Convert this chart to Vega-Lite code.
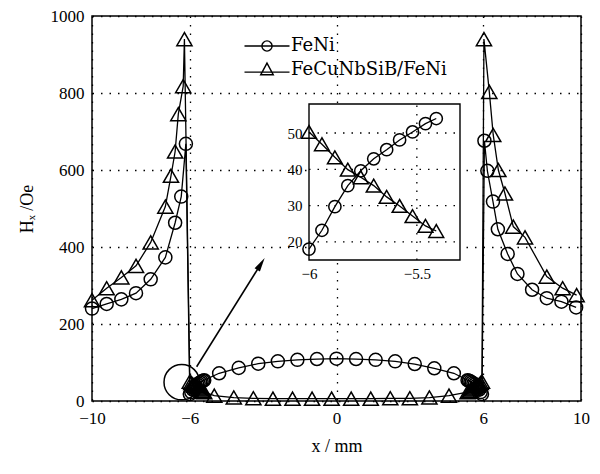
{
  "$schema": "https://vega.github.io/schema/vega-lite/v6.json",
  "width": 489,
  "height": 385,
  "autosize": "none",
  "padding": {"left": 92, "top": 16, "right": 19, "bottom": 73},
  "background": "white",
  "config": {
    "view": {"stroke": "black", "strokeWidth": 1.5},
    "font": "Liberation Serif",
    "axis": {"labelFont": "Liberation Serif", "titleFont": "Liberation Serif", "labelColor": "black", "titleColor": "black", "titleFontWeight": "normal"}
  },
  "datasets": {
    "hx": [
      {"s": "FeNi", "x": -10, "y": 240}, {"s": "FeNi", "x": -9.4, "y": 252}, {"s": "FeNi", "x": -8.8, "y": 264}, {"s": "FeNi", "x": -8.2, "y": 280}, {"s": "FeNi", "x": -7.6, "y": 316}, {"s": "FeNi", "x": -7.0, "y": 373}, {"s": "FeNi", "x": -6.6, "y": 463}, {"s": "FeNi", "x": -6.35, "y": 531}, {"s": "FeNi", "x": -6.16, "y": 668},
      {"s": "FeNi", "x": -6.0, "y": 18}, {"s": "FeNi", "x": -5.94, "y": 23.2}, {"s": "FeNi", "x": -5.88, "y": 29.7}, {"s": "FeNi", "x": -5.82, "y": 35.5}, {"s": "FeNi", "x": -5.76, "y": 39.6}, {"s": "FeNi", "x": -5.7, "y": 42.9}, {"s": "FeNi", "x": -5.64, "y": 45.4}, {"s": "FeNi", "x": -5.58, "y": 48.1}, {"s": "FeNi", "x": -5.52, "y": 50.3}, {"s": "FeNi", "x": -5.46, "y": 52.6}, {"s": "FeNi", "x": -5.41, "y": 54.0},
      {"s": "FeNi", "x": -4.8, "y": 72}, {"s": "FeNi", "x": -4.0, "y": 86}, {"s": "FeNi", "x": -3.2, "y": 97}, {"s": "FeNi", "x": -2.4, "y": 103}, {"s": "FeNi", "x": -1.6, "y": 107}, {"s": "FeNi", "x": -0.8, "y": 109}, {"s": "FeNi", "x": 0, "y": 110}, {"s": "FeNi", "x": 0.8, "y": 109}, {"s": "FeNi", "x": 1.6, "y": 107}, {"s": "FeNi", "x": 2.4, "y": 103}, {"s": "FeNi", "x": 3.2, "y": 96}, {"s": "FeNi", "x": 4.0, "y": 85}, {"s": "FeNi", "x": 4.8, "y": 72},
      {"s": "FeNi", "x": 5.36, "y": 54}, {"s": "FeNi", "x": 5.42, "y": 52.6}, {"s": "FeNi", "x": 5.48, "y": 50.3}, {"s": "FeNi", "x": 5.54, "y": 48.1}, {"s": "FeNi", "x": 5.6, "y": 45.4}, {"s": "FeNi", "x": 5.66, "y": 42.9}, {"s": "FeNi", "x": 5.72, "y": 39.6}, {"s": "FeNi", "x": 5.78, "y": 35.5}, {"s": "FeNi", "x": 5.84, "y": 29.7}, {"s": "FeNi", "x": 5.9, "y": 23.2}, {"s": "FeNi", "x": 5.95, "y": 18},
      {"s": "FeNi", "x": 6.05, "y": 676}, {"s": "FeNi", "x": 6.17, "y": 598}, {"s": "FeNi", "x": 6.4, "y": 518}, {"s": "FeNi", "x": 6.6, "y": 446}, {"s": "FeNi", "x": 7.0, "y": 382}, {"s": "FeNi", "x": 7.4, "y": 330}, {"s": "FeNi", "x": 8.0, "y": 289}, {"s": "FeNi", "x": 8.6, "y": 267}, {"s": "FeNi", "x": 9.2, "y": 258}, {"s": "FeNi", "x": 9.8, "y": 243},
      {"s": "FeCuNbSiB/FeNi", "x": -10, "y": 262}, {"s": "FeCuNbSiB/FeNi", "x": -9.4, "y": 293}, {"s": "FeCuNbSiB/FeNi", "x": -8.8, "y": 321}, {"s": "FeCuNbSiB/FeNi", "x": -8.2, "y": 351}, {"s": "FeCuNbSiB/FeNi", "x": -7.6, "y": 412}, {"s": "FeCuNbSiB/FeNi", "x": -7.0, "y": 505}, {"s": "FeCuNbSiB/FeNi", "x": -6.77, "y": 585}, {"s": "FeCuNbSiB/FeNi", "x": -6.6, "y": 648}, {"s": "FeCuNbSiB/FeNi", "x": -6.47, "y": 745}, {"s": "FeCuNbSiB/FeNi", "x": -6.27, "y": 818}, {"s": "FeCuNbSiB/FeNi", "x": -6.22, "y": 940},
      {"s": "FeCuNbSiB/FeNi", "x": -6.0, "y": 50.3}, {"s": "FeCuNbSiB/FeNi", "x": -5.94, "y": 46.9}, {"s": "FeCuNbSiB/FeNi", "x": -5.88, "y": 43.3}, {"s": "FeCuNbSiB/FeNi", "x": -5.82, "y": 39.9}, {"s": "FeCuNbSiB/FeNi", "x": -5.76, "y": 37.8}, {"s": "FeCuNbSiB/FeNi", "x": -5.7, "y": 35.5}, {"s": "FeCuNbSiB/FeNi", "x": -5.64, "y": 32.4}, {"s": "FeCuNbSiB/FeNi", "x": -5.58, "y": 29.9}, {"s": "FeCuNbSiB/FeNi", "x": -5.52, "y": 27.1}, {"s": "FeCuNbSiB/FeNi", "x": -5.46, "y": 24.4}, {"s": "FeCuNbSiB/FeNi", "x": -5.41, "y": 23.0},
      {"s": "FeCuNbSiB/FeNi", "x": -5.0, "y": 14}, {"s": "FeCuNbSiB/FeNi", "x": -4.2, "y": 9}, {"s": "FeCuNbSiB/FeNi", "x": -3.4, "y": 7}, {"s": "FeCuNbSiB/FeNi", "x": -2.6, "y": 6}, {"s": "FeCuNbSiB/FeNi", "x": -1.8, "y": 6}, {"s": "FeCuNbSiB/FeNi", "x": -1.0, "y": 6}, {"s": "FeCuNbSiB/FeNi", "x": -0.2, "y": 6}, {"s": "FeCuNbSiB/FeNi", "x": 0.6, "y": 6}, {"s": "FeCuNbSiB/FeNi", "x": 1.4, "y": 6}, {"s": "FeCuNbSiB/FeNi", "x": 2.2, "y": 7}, {"s": "FeCuNbSiB/FeNi", "x": 3.0, "y": 7}, {"s": "FeCuNbSiB/FeNi", "x": 3.8, "y": 9}, {"s": "FeCuNbSiB/FeNi", "x": 4.6, "y": 14},
      {"s": "FeCuNbSiB/FeNi", "x": 5.36, "y": 23}, {"s": "FeCuNbSiB/FeNi", "x": 5.42, "y": 24.4}, {"s": "FeCuNbSiB/FeNi", "x": 5.48, "y": 27.1}, {"s": "FeCuNbSiB/FeNi", "x": 5.54, "y": 29.9}, {"s": "FeCuNbSiB/FeNi", "x": 5.6, "y": 32.4}, {"s": "FeCuNbSiB/FeNi", "x": 5.66, "y": 35.5}, {"s": "FeCuNbSiB/FeNi", "x": 5.72, "y": 37.8}, {"s": "FeCuNbSiB/FeNi", "x": 5.78, "y": 39.9}, {"s": "FeCuNbSiB/FeNi", "x": 5.84, "y": 43.3}, {"s": "FeCuNbSiB/FeNi", "x": 5.9, "y": 46.9}, {"s": "FeCuNbSiB/FeNi", "x": 5.95, "y": 50.3},
      {"s": "FeCuNbSiB/FeNi", "x": 6.03, "y": 940}, {"s": "FeCuNbSiB/FeNi", "x": 6.25, "y": 803}, {"s": "FeCuNbSiB/FeNi", "x": 6.41, "y": 691}, {"s": "FeCuNbSiB/FeNi", "x": 6.62, "y": 600}, {"s": "FeCuNbSiB/FeNi", "x": 6.89, "y": 539}, {"s": "FeCuNbSiB/FeNi", "x": 7.23, "y": 453}, {"s": "FeCuNbSiB/FeNi", "x": 7.71, "y": 425}, {"s": "FeCuNbSiB/FeNi", "x": 8.6, "y": 323}, {"s": "FeCuNbSiB/FeNi", "x": 9.25, "y": 293}, {"s": "FeCuNbSiB/FeNi", "x": 9.82, "y": 275}
    ]
  },
  "resolve": {"scale": {"x": "independent", "y": "independent"}},
  "layer": [
    {
      "layer": [
        {
          "data": {"name": "hx"},
          "mark": {"type": "line", "color": "black", "strokeWidth": 1.3},
          "encoding": {
            "x": {"field": "x", "type": "quantitative", "scale": {"domain": [-10, 10], "nice": false},
              "axis": {"values": [-10, -6, 0, 6, 10], "grid": true, "gridColor": "black", "gridDash": [1.5, 7], "gridOpacity": 1, "gridWidth": 1.3, "domain": false, "ticks": false, "labelFontSize": 17, "labelPadding": 9, "labelFlush": false, "title": "x / mm", "titleFontSize": 18, "titlePadding": 11, "format": "d"}},
            "y": {"field": "y", "type": "quantitative", "scale": {"domain": [0, 1000], "nice": false},
              "axis": {"values": [0, 200, 400, 600, 800, 1000], "format": "d", "grid": true, "gridColor": "black", "gridDash": [1.5, 7], "gridOpacity": 1, "gridWidth": 1.3, "domain": false, "ticks": false, "labelFontSize": 17, "labelPadding": 8, "title": "Hₓ /Oe", "titleFontSize": 18, "titlePadding": 14}},
            "detail": {"field": "s"}
          }
        },
        {
          "data": {"name": "hx"},
          "transform": [{"filter": "datum.s === 'FeNi'"}],
          "mark": {"type": "point", "shape": "circle", "filled": false, "color": "black", "strokeWidth": 1.5, "size": 170, "opacity": 1},
          "encoding": {"x": {"field": "x", "type": "quantitative"}, "y": {"field": "y", "type": "quantitative"}}
        },
        {
          "data": {"name": "hx"},
          "transform": [{"filter": "datum.s !== 'FeNi'"}],
          "mark": {"type": "point", "shape": "triangle-up", "filled": false, "color": "black", "strokeWidth": 1.5, "size": 230, "opacity": 1},
          "encoding": {"x": {"field": "x", "type": "quantitative"}, "y": {"field": "y", "type": "quantitative"}}
        },
        {
          "data": {"name": "hx"},
          "transform": [{"filter": "false"}],
          "mark": {"type": "point", "filled": false, "color": "black", "strokeWidth": 1.4, "size": 144, "opacity": 0},
          "encoding": {
            "x": {"field": "x", "type": "quantitative"},
            "y": {"field": "y", "type": "quantitative"},
            "shape": {"field": "s", "type": "nominal",
              "scale": {"domain": ["FeNi", "FeCuNbSiB/FeNi"], "range": ["M-3.75,0H3.75M0.85,0A0.85,0.85,0,1,1,-0.85,0A0.85,0.85,0,1,1,0.85,0", "M-3.75,0.35H3.75M0,-1.15L1.05,0.8L-1.05,0.8Z"]},
              "legend": {"title": null, "orient": "none", "legendX": 166, "legendY": 21, "padding": 0,
                "labelFont": "DejaVu Serif", "labelFontSize": 18, "labelColor": "black", "symbolSize": 144, "labelOffset": 15, "rowPadding": 5,
                "symbolStrokeColor": "black", "symbolFillColor": "transparent", "symbolStrokeWidth": 1.4, "symbolOpacity": 1}
            }
          }
        },
        {
          "data": {"values": [{"x": -6.33, "y": 49}]},
          "mark": {"type": "point", "shape": "circle", "filled": false, "color": "black", "strokeWidth": 1.5, "size": 1257, "opacity": 1},
          "encoding": {"x": {"field": "x", "type": "quantitative"}, "y": {"field": "y", "type": "quantitative"}}
        },
        {
          "data": {"values": [{"x": -5.72, "y": 89, "x2": -3.09, "y2": 356}]},
          "mark": {"type": "rule", "color": "black", "strokeWidth": 1.6},
          "encoding": {"x": {"field": "x", "type": "quantitative"}, "y": {"field": "y", "type": "quantitative"}, "x2": {"field": "x2"}, "y2": {"field": "y2"}}
        },
        {
          "data": {"values": [{"x": -3.09, "y": 356}]},
          "mark": {"type": "point", "shape": "M0,-1L0.45,1L-0.45,1Z", "filled": true, "color": "black", "size": 196, "angle": 32, "opacity": 1},
          "encoding": {"x": {"field": "x", "type": "quantitative"}, "y": {"field": "y", "type": "quantitative"}}
        }
      ]
    },
    {
      "layer": [
        {
          "data": {"values": [{"x": -6, "x2": -5.3, "y": 15, "y2": 58}]},
          "mark": {"type": "rect", "fill": "white", "stroke": "black", "strokeWidth": 1.4},
          "encoding": {
            "x": {"field": "x", "type": "quantitative", "scale": {"domain": [-6, -5.3], "nice": false, "zero": false, "range": [217, 368]},
              "axis": {"orient": "bottom", "offset": -141, "values": [-6, -5.5], "format": ".1~f", "grid": false, "domain": false, "ticks": false, "labelFontSize": 15, "labelPadding": 6, "labelFlush": false, "title": null}},
            "x2": {"field": "x2"},
            "y": {"field": "y", "type": "quantitative", "scale": {"domain": [15, 58], "nice": false, "zero": false, "range": [244, 88]},
              "axis": {"orient": "left", "offset": -217, "values": [20, 30, 40, 50], "grid": false, "domain": false, "ticks": false, "labelFontSize": 15, "labelPadding": 7, "title": null}},
            "y2": {"field": "y2"}
          }
        },
        {
          "data": {"values": [{"g": 20}, {"g": 30}, {"g": 40}, {"g": 50}]},
          "mark": {"type": "rule", "color": "black", "strokeDash": [1.5, 7], "strokeWidth": 1.3},
          "encoding": {"y": {"field": "g", "type": "quantitative"}, "x": {"datum": -6}, "x2": {"datum": -5.3}}
        },
        {
          "data": {"values": [{"g": -5.5}]},
          "mark": {"type": "rule", "color": "black", "strokeDash": [1.5, 7], "strokeWidth": 1.3},
          "encoding": {"x": {"field": "g", "type": "quantitative"}, "y": {"datum": 15}, "y2": {"datum": 58}}
        },
        {
          "data": {"name": "hx"},
          "transform": [{"filter": "datum.x >= -6 && datum.x <= -5.4"}],
          "mark": {"type": "line", "color": "black", "strokeWidth": 1.3},
          "encoding": {"x": {"field": "x", "type": "quantitative"}, "y": {"field": "y", "type": "quantitative"}, "detail": {"field": "s"}}
        },
        {
          "data": {"name": "hx"},
          "transform": [{"filter": "datum.x >= -6 && datum.x <= -5.4 && datum.s === 'FeNi'"}],
          "mark": {"type": "point", "shape": "circle", "filled": false, "color": "black", "strokeWidth": 1.5, "size": 150, "opacity": 1},
          "encoding": {"x": {"field": "x", "type": "quantitative"}, "y": {"field": "y", "type": "quantitative"}}
        },
        {
          "data": {"name": "hx"},
          "transform": [{"filter": "datum.x >= -6 && datum.x <= -5.4 && datum.s !== 'FeNi'"}],
          "mark": {"type": "point", "shape": "triangle-up", "filled": false, "color": "black", "strokeWidth": 1.5, "size": 220, "opacity": 1},
          "encoding": {"x": {"field": "x", "type": "quantitative"}, "y": {"field": "y", "type": "quantitative"}}
        }
      ]
    }
  ]
}
